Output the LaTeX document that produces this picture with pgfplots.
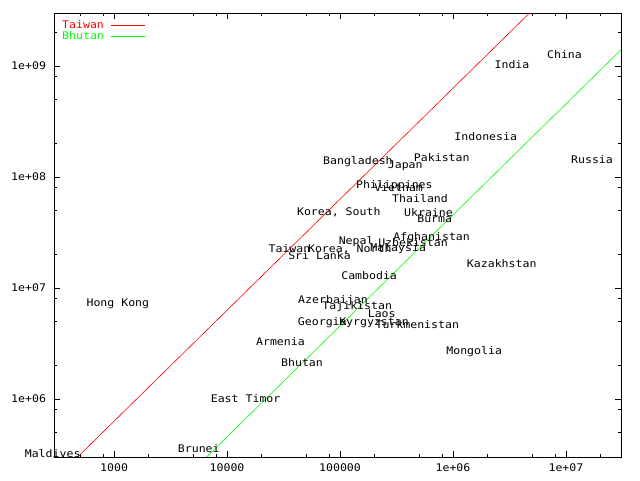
\documentclass[border=0pt]{standalone}
\usepackage{pgfplots}
\pgfplotsset{compat=1.18}
\usepackage{fontspec}
\newfontfamily\gp[FakeStretch=1.1]{DejaVu Sans Mono}
\newcommand\gpfont{\gp\fontsize{10.5}{12}\selectfont}
\begin{document}
\begin{tikzpicture}[font=\gpfont]
\path[use as bounding box] (-54pt,-23pt) rectangle (586pt,457pt);
\begin{axis}[
  at={(0,0)}, anchor=south west,
  scale only axis, width=567pt, height=444pt,
  xmode=log, ymode=log,
  xmin=294, xmax=3.07e7, ymin=3e5, ymax=3e9,
  axis line style={black, line width=0.8pt},
  tick align=inside,
  xtick={1000,10000,100000,1000000,10000000},
  xticklabels={1000,10000,100000,1e+06,1e+07},
  ytick={1e6,1e7,1e8,1e9},
  yticklabels={1e+06,1e+07,1e+08,1e+09},
  minor xtick={500,800,2000,5000,8000,20000,50000,80000,2e5,5e5,8e5,2e6,5e6,8e6,2e7},
  minor ytick={5e5,8e5,2e6,5e6,8e6,2e7,5e7,8e7,2e8,5e8,8e8,2e9},
  major tick length=6pt, minor tick length=3pt,
  every tick/.style={black, line width=0.8pt},
  tick label style={font=\gpfont},
  xticklabel style={yshift=-3pt},
  yticklabel style={xshift=-4.5pt},
  clip=false,
  legend plot pos=right,
  legend cell align=left,
  legend image code/.code={\draw[#1] (0pt,0pt) -- (34pt,0pt);},
  legend style={at={(axis description cs:0,1)}, anchor=north west,
    xshift=8pt, yshift=-8.5pt, draw=none, fill=none, inner sep=0pt,
    row sep=3.7pt, column sep=7pt,
    nodes={inner sep=0pt, text height=7pt, text depth=0pt, font=\gpfont}},
]
\addplot[red, line width=0.6pt] coordinates {(476,3e5) (4.76e6,3e9)};
\addlegendentry{\textcolor{red}{Taiwan}}
\addplot[green, line width=0.6pt] coordinates {(6593,3e5) (3.07e7,1.397e9)};
\addlegendentry{\textcolor{green}{Bhutan}}
\addplot[only marks, mark=none, forget plot, nodes near coords, point meta=explicit symbolic,
  every node near coord/.append style={anchor=center, inner sep=0pt, font=\gpfont, text=black}]
  table[meta=label] {
x y label
9.70e6 1.27e9 China
3.33e6 1.02e9 India
1.95e6 2.31e8 Indonesia
7.96e5 1.49e8 Pakistan
1.70e7 1.43e8 Russia
1.44e5 1.37e8 Bangladesh
3.78e5 1.26e8 Japan
3.03e5 8.36e7 Philippines
3.30e5 7.96e7 Vietnam
5.11e5 6.38e7 Thailand
9.75e4 4.77e7 {Korea, South}
6.07e5 4.81e7 Ukraine
6.89e5 4.21e7 Burma
6.47e5 2.86e7 Afghanistan
1.39e5 2.61e7 Nepal
4.43e5 2.58e7 Uzbekistan
1.22e5 2.23e7 {Korea, North}
3.27e5 2.26e7 Malaysia
3.57e4 2.26e7 Taiwan
6.59e4 1.95e7 {Sri Lanka}
1.81e5 1.29e7 Cambodia
2.70e6 1.66e7 Kazakhstan
1.08e3 7.18e6 {Hong Kong}
8.67e4 7.69e6 Azerbaijan
1.42e5 6.79e6 Tajikistan
2.34e5 5.86e6 Laos
6.97e4 4.86e6 Georgia
2.00e5 4.86e6 Kyrgyzstan
4.83e5 4.71e6 Turkmenistan
2.97e4 3.28e6 Armenia
1.54e6 2.67e6 Mongolia
4.61e4 2.14e6 Bhutan
1.46e4 1.00e6 {East Timor}
5.62e3 3.60e5 Brunei
286 3.24e5 Maldives
};
\end{axis}
\end{tikzpicture}
\end{document}
